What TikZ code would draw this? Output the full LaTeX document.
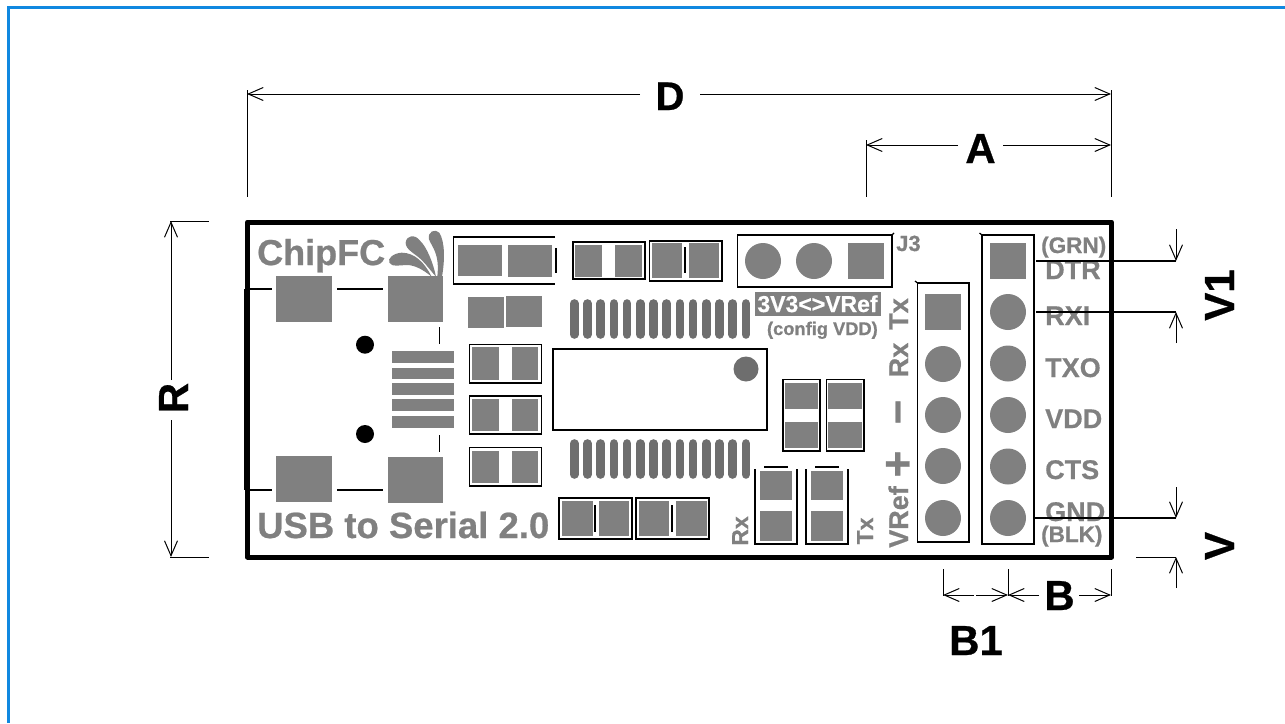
\documentclass[tikz,border=0pt]{standalone}
\usepackage{fontspec}
\setmainfont{Liberation Sans}[BoldFont={Liberation Sans Bold},BoldFeatures={FakeBold=0.6}]
\usetikzlibrary{arrows.meta}
\definecolor{padgray}{HTML}{808080}
\definecolor{combgray}{HTML}{6E6E6E}
\definecolor{edgeblue}{HTML}{1088E0}
\newcommand{\fsz}[1]{\fontsize{#1}{#1}\selectfont\bfseries}
\tikzset{
  x=1pt,y=-1pt,
  pad/.style={fill=padgray,draw=none},
  outlinebox/.style={draw=black,line width=1.6pt,fill=none},
  graytext/.style={text=padgray,inner sep=0pt,anchor=base west},
  darktext/.style={text=black,inner sep=0pt,anchor=base},
  dimline/.style={draw=black,line width=1pt},
  dimarrow/.style={draw=black,line width=1pt,-{Straight Barb[length=15pt,width=13pt,line width=1pt]}},
  thick line/.style={draw=black,line width=1.8pt},
}
\newcommand{\padrect}[4]{\fill[pad] (#1,#2) rectangle (#3,#4);}
\begin{document}
\begin{tikzpicture}
\useasboundingbox (0,0) rectangle (1285,723);
\fill[white] (0,0) rectangle (1285,723);
% page edge
\fill[edgeblue] (7,6) rectangle (1285,9);
\fill[edgeblue] (7,6) rectangle (10,723);

% texts under lines
\node[graytext,font=\fsz{36}] (chip) at (257,265) {ChipFC};
\node[graytext,font=\fsz{36.5}] (usb) at (257,538) {USB to Serial 2.0};
\node[graytext,font=\fsz{22}] (j3) at (896,251) {J3};
\node[graytext,font=\fsz{22.5}] (grn) at (1041,253) {(GRN)};
\node[graytext,font=\fsz{27}] (dtr) at (1045,279) {DTR};
\node[graytext,font=\fsz{27}] (rxi) at (1045,325) {RXI};
\node[graytext,font=\fsz{27}] (txo) at (1045,377) {TXO};
\node[graytext,font=\fsz{27}] (vdd) at (1045,428) {VDD};
\node[graytext,font=\fsz{27}] (cts) at (1045,479) {CTS};
\node[graytext,font=\fsz{27}] (gnd) at (1045,521) {GND};
\node[graytext,font=\fsz{22.5}] (blk) at (1041,542) {(BLK)};
\tikzset{rotgray/.style={text=padgray,inner sep=0pt,anchor=base,rotate=90}}
\node[rotgray,font=\fsz{27}] (ttx) at (908,314) {Tx};
\node[rotgray,font=\fsz{27}] (trx) at (908,360) {Rx};
\node[rotgray,font=\fsz{42}] (tminus) at (912,412) {−};
\node[rotgray,font=\fsz{46}] (tplus) at (913,464) {+};
\node[rotgray,font=\fsz{27}] (tvref) at (908,517) {VRef};
\node[rotgray,font=\fsz{23}] (lrx) at (748,531) {Rx};
\node[rotgray,font=\fsz{23}] (ltx) at (873,531) {Tx};
\fill[padgray] (755,292) rectangle (881,316);
\node[text=white,inner sep=0pt,anchor=base,font=\fsz{23}] (cfg) at (817.5,312) {3V3<>VRef};
\node[text=padgray,inner sep=0pt,anchor=base east,font=\fsz{18.3}] (cfgb) at (878,335) {(config VDD)};

% logo petals
\begin{scope}[shift={(230,210)},x=0.3333pt,y=-0.3333pt]
\fill[padgray] (605,200) .. controls (585,160) and (555,128) .. (515,128) .. controls (490,130) and (472,145) .. (478,158) .. controls (485,172) and (510,165) .. (535,165) .. controls (560,168) and (580,180) .. (605,200) -- cycle;
\fill[padgray] (618,200) .. controls (610,160) and (590,110) .. (570,92) .. controls (555,72) and (530,75) .. (527,98) .. controls (527,120) and (555,130) .. (575,150) .. controls (590,165) and (600,180) .. (618,200) -- cycle;
\fill[padgray] (636,200) .. controls (645,150) and (645,95) .. (628,68) .. controls (615,55) and (592,65) .. (597,88) .. controls (605,110) and (630,130) .. (622,200) -- cycle;
\end{scope}

% board outline
\draw[line width=5pt,line join=round] (247.5,222) rectangle (1111.5,557);
\draw[line width=1.5pt] (244.5,289) -- (244.5,490);

% USB pads and lines
\padrect{276}{276}{332}{322}
\padrect{388}{276}{443}{322}
\padrect{276}{456}{332}{502}
\padrect{388}{457}{443}{503}
\draw[thick line] (245,289) -- (272,289);
\draw[thick line] (337,289) -- (383,289);
\draw[thick line] (245,490) -- (272,490);
\draw[thick line] (337,490) -- (383,490);
\draw[thick line] (439.5,327) -- (439.5,344);
\draw[thick line] (439.5,435) -- (439.5,452);
\fill[black] (365,344.7) circle (9);
\fill[black] (365,434) circle (9);
\padrect{392}{351}{454}{363}
\padrect{392}{367.5}{454}{379}
\padrect{392}{383}{454}{395}
\padrect{392}{399}{454}{411}
\padrect{392}{416}{454}{427.5}

% top-left open part
\draw[outlinebox] (555,237) -- (453.5,237) -- (453.5,284) -- (555,284);
\padrect{458}{245}{502}{276}
\padrect{508}{245}{552}{276.5}
\draw[thick line] (555.7,248) -- (555.7,273);
\padrect{468}{297}{504}{328}
\padrect{506}{296}{542}{327}

% left passive column
\draw[outlinebox] (469.5,344.5) rectangle (541.5,383);
\padrect{472}{347}{499}{380}
\padrect{512}{347}{538}{380}
\draw[outlinebox] (469.5,396) rectangle (541.5,434);
\padrect{472}{399}{499}{431}
\padrect{512}{399}{538}{431}
\draw[outlinebox] (469.5,447.5) rectangle (541.5,486);
\padrect{472}{451}{499}{483}
\padrect{512}{451}{538}{483}

% top passives
\draw[outlinebox] (573,242) rectangle (645,279);
\padrect{575}{245}{602}{277}
\padrect{615}{245}{642}{277}
\draw[outlinebox] (649.5,241) rectangle (722,281);
\padrect{652}{243}{682}{278}
\padrect{689}{243}{719}{278}
\draw[thick line] (685,247) -- (685,273);

% J3
\draw[outlinebox] (737.5,235) rectangle (892,287);
\draw[line width=1.2pt] (892,235) -- (894,233);
\fill[padgray] (763,261) circle (18);
\fill[padgray] (814,261) circle (18);
\padrect{848}{243}{884}{279}

% IC and combs
\foreach \i in {0,...,13} {
  \draw[combgray,line width=8.6pt,line cap=round] ({574.3+13.2*\i},303.5) -- ({574.3+13.2*\i},334.5);
  \draw[combgray,line width=8.6pt,line cap=round] ({574.3+13.2*\i},443.5) -- ({574.3+13.2*\i},474.5);
}
\draw[outlinebox] (553,349) rectangle (767,430);
\fill[combgray] (746,369) circle (12.5);

% vertical passives
\draw[outlinebox] (783,379.5) rectangle (820,451);
\padrect{785}{383}{818}{409}
\padrect{785}{422}{818}{448}
\draw[outlinebox] (826.5,379.5) rectangle (864,451);
\padrect{828}{383}{862}{409}
\padrect{828}{422}{862}{448}

% bottom passives
\draw[outlinebox] (559,498) rectangle (632,539);
\padrect{562}{501}{593}{536}
\padrect{599}{501}{629}{536}
\draw[thick line] (595,505) -- (595,532);
\draw[outlinebox] (636,498) rectangle (709,539);
\padrect{639}{501}{669}{536}
\padrect{676}{501}{707}{536}
\draw[thick line] (672,505) -- (672,532);

% LEDs
\draw[outlinebox] (755,469) -- (755,544) -- (797,544) -- (797,469);
\padrect{760}{471}{792}{500}
\padrect{760}{511}{792}{541}
\draw[thick line] (764,467) -- (788,467);
\draw[outlinebox] (806,469) -- (806,544) -- (848,544) -- (848,469);
\padrect{811}{471}{843}{500}
\padrect{811}{511}{843}{541}
\draw[thick line] (815,467) -- (839,467);

% headers
\draw[outlinebox] (917.5,283) rectangle (969,542);
\draw[line width=1.2pt] (917.5,283) -- (915,281);
\padrect{925}{294}{961}{330}
\foreach \y in {364,415,466,518} \fill[padgray] (943,\y) circle (18);
\draw[outlinebox] (982,235) rectangle (1034,544);
\draw[line width=1.2pt] (982,235) -- (979.5,233);
\padrect{990}{243}{1026}{279}
\foreach \y in {312,363.5,415,466.5,518} \fill[padgray] (1008,\y) circle (18);

% dimensions
\coordinate (dl) at (247,94); \coordinate (dr) at (1111,94);
\draw[dimline] (247,90) -- (247,197);
\draw[dimline] (1111,90) -- (1111,197);
\draw[dimarrow] (640,94) -- (dl);
\draw[dimarrow] (700,94) -- (dr);
\node[darktext,font=\fsz{40}] (labD) at (670,110) {D};

\draw[dimline] (866,140) -- (866,197);
\coordinate (al) at (866,145); \coordinate (ar) at (1111,145);
\draw[dimarrow] (958,145) -- (al);
\draw[dimarrow] (1003,145) -- (ar);
\node[darktext,font=\fsz{42}] (labA) at (980.5,163) {A};

\draw[dimline] (170,221) -- (209,221);
\draw[dimline] (170,557) -- (209,557);
\coordinate (rt) at (171,221); \coordinate (rb) at (171,557);
\draw[dimarrow] (171,380) -- (rt);
\draw[dimarrow] (171,420) -- (rb);
\node[darktext,font=\fsz{42},rotate=90] (labR) at (188,398) {R};

\coordinate (v1a) at (1176,261); \coordinate (v1b) at (1176,312);
\draw[line width=1.6pt] (1036,261) -- (v1a);
\draw[line width=1.1pt] (1036,312) -- (v1b);
\draw[dimarrow] (1176,229) -- (v1a);
\draw[dimarrow] (1176,343) -- (v1b);
\node[darktext,font=\fsz{42},rotate=90] (labV1) at (1234,295) {V1};

\coordinate (va) at (1176,518); \coordinate (vb) at (1176,557);
\draw[line width=1.1pt] (1035,518) -- (va);
\draw[dimline] (1136,557) -- (vb);
\draw[dimarrow] (1176,487) -- (va);
\draw[dimarrow] (1176,588) -- (vb);
\node[darktext,font=\fsz{42},rotate=90] (labV) at (1234,546) {V};

\draw[dimline] (943,569) -- (943,596);
\draw[dimline] (1008,569) -- (1008,596);
\draw[dimline] (1111,569) -- (1111,596);
\coordinate (b1) at (943,595); \coordinate (b2) at (1008,595); \coordinate (b3) at (1111,595);
\draw[dimarrow] (974,595) -- (b1);
\draw[dimarrow] (976,595) -- (b2);
\draw[dimarrow] (1039,595) -- (b2);
\draw[dimarrow] (1079,595) -- (b3);
\node[darktext,font=\fsz{42}] (labB) at (1059.5,610) {B};
\node[darktext,font=\fsz{42}] (labB1) at (976,655) {B1};
\end{tikzpicture}
\end{document}
